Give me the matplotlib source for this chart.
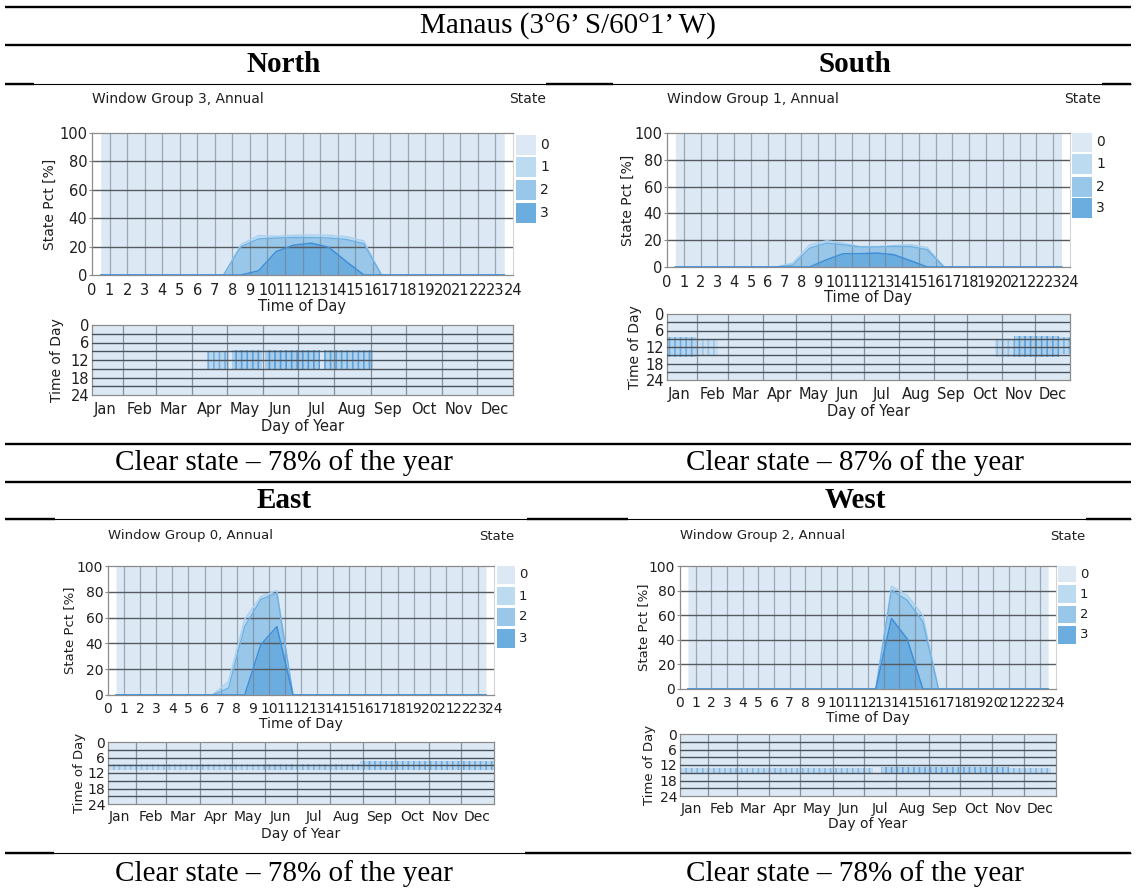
import numpy as np
import matplotlib
matplotlib.use("Agg")
import matplotlib.pyplot as plt
from matplotlib.lines import Line2D
from matplotlib.patches import Rectangle

plt.rcParams['font.family'] = ['DejaVu Sans']
plt.rcParams['hatch.linewidth'] = 1.2

# ---- data ----
hour_mid = np.arange(24) + 0.5
hour_ticks = [str(h) for h in range(25)]
pct_ticks = [0, 20, 40, 60, 80, 100]
tod_ticks = [0, 6, 12, 18, 24]
months = ['Jan', 'Feb', 'Mar', 'Apr', 'May', 'Jun', 'Jul', 'Aug', 'Sep', 'Oct', 'Nov', 'Dec']
month_days = [31, 28, 31, 30, 31, 30, 31, 31, 30, 31, 30, 31]
state_names = ['0', '1', '2', '3']

# share of hours [%] in state 1, 2 and 3, per hour of day (state 0 is the rest)
north_s1 = [0, 0, 0, 0, 0, 0, 0, 0, 1.6, 2.4, 1.3, 1.6, 1.8, 2.0, 2.0, 2.0, 0, 0, 0, 0, 0, 0, 0, 0]
north_s2 = [0, 0, 0, 0, 0, 0, 0, 0, 20, 22.4, 9.5, 5.4, 4.0, 6.5, 15.6, 22, 0, 0, 0, 0, 0, 0, 0, 0]
north_s3 = [0, 0, 0, 0, 0, 0, 0, 0, 0, 3, 16.5, 21, 22.4, 19.5, 9.4, 0, 0, 0, 0, 0, 0, 0, 0, 0]

south_s1 = [0, 0, 0, 0, 0, 0, 0, 1.5, 2.5, 1.8, 1.2, 0.4, 0.4, 0.7, 1.4, 1.7, 0, 0, 0, 0, 0, 0, 0, 0]
south_s2 = [0, 0, 0, 0, 0, 0, 0, 1.5, 14, 12.4, 6.7, 5.0, 4.5, 6.1, 10.6, 12.9, 0, 0, 0, 0, 0, 0, 0, 0]
south_s3 = [0, 0, 0, 0, 0, 0, 0, 0, 0, 5.4, 9.9, 9.9, 10.4, 9.2, 4.7, 0, 0, 0, 0, 0, 0, 0, 0, 0]

east_s1 = [0, 0, 0, 0, 0, 0, 0, 5.2, 5.8, 2.3, 2.0, 0, 0, 0, 0, 0, 0, 0, 0, 0, 0, 0, 0, 0]
east_s2 = [0, 0, 0, 0, 0, 0, 0, 5.4, 53, 35.1, 26, 0, 0, 0, 0, 0, 0, 0, 0, 0, 0, 0, 0, 0]
east_s3 = [0, 0, 0, 0, 0, 0, 0, 0, 0, 38.9, 53, 0, 0, 0, 0, 0, 0, 0, 0, 0, 0, 0, 0, 0]

west_s1 = [0, 0, 0, 0, 0, 0, 0, 0, 0, 0, 0, 0, 0, 3.3, 4.1, 5.3, 0, 0, 0, 0, 0, 0, 0, 0]
west_s2 = [0, 0, 0, 0, 0, 0, 0, 0, 0, 0, 0, 0, 0, 22.9, 31.5, 54.7, 0, 0, 0, 0, 0, 0, 0, 0]
west_s3 = [0, 0, 0, 0, 0, 0, 0, 0, 0, 0, 0, 0, 0, 57.4, 40.7, 0, 0, 0, 0, 0, 0, 0, 0, 0]

# non-clear periods in the day-of-year strip: (first day, last day, from hour, to hour, density)
north_bands = [(103, 122, 9.0, 15.0, 0.55), (124, 150, 8.5, 15.5, 0.75),
               (153, 200, 8.5, 15.5, 0.8), (203, 245, 8.5, 15.5, 0.7)]
south_bands = [(4, 30, 8.5, 15.5, 0.6), (30, 50, 9.0, 15.0, 0.3),
               (298, 315, 9.0, 15.5, 0.35), (315, 355, 8.0, 15.5, 0.75), (355, 365, 8.5, 14.5, 0.5)]
east_bands = [(4, 150, 8.7, 10.7, 0.35), (150, 240, 8.7, 10.7, 0.5), (240, 365, 7.3, 10.7, 0.6)]
west_bands = [(4, 190, 13.0, 15.2, 0.45), (197, 320, 12.8, 15.4, 0.65), (320, 360, 13.0, 15.0, 0.45)]

# ---- styling ----
W, H = 1136, 891
C_STATE = ['#dce9f5', '#bcdbf1', '#98c7e9', '#6cade0']
EDGE = ['#a9d0ef', '#6fb0e2', '#3f8ed6']
TXT = '#1f1f1f'
SERIF = ['Liberation Serif', 'DejaVu Serif']

fig = plt.figure(figsize=(W / 100, H / 100), dpi=100)


def px_axes(l, t, r, b):
    return fig.add_axes([l / W, 1 - b / H, (r - l) / W, (b - t) / H])


def rule(y, x0, x1, lw):
    fig.add_artist(Line2D([x0 / W, x1 / W], [1 - y / H] * 2, transform=fig.transFigure,
                          color='black', lw=lw, solid_capstyle='butt'))


def ftext(x, y, s, **kw):
    fig.text(x / W, 1 - y / H, s, **kw)


def draw_panel(g, s1, s2, s3, bands, group):
    fs = g['fs']
    # header texts
    ftext(g['area'][0], g['head_y'], f'Window Group {group}, Annual', fontsize=fs - 0.5,
          color=TXT, va='center', ha='left')
    ftext(g['state_r'], g['head_y'], 'State', fontsize=fs - 0.5, color=TXT, va='center', ha='right')

    # stacked state area chart
    l, t, r, b = g['area']
    ax = px_axes(l, t, r, b)
    c3 = np.array(s3, dtype=float)
    c2 = c3 + np.array(s2)
    c1 = c2 + np.array(s1)
    ax.fill_between(hour_mid, c1, 100, color=C_STATE[0], lw=0, zorder=1)
    ax.fill_between(hour_mid, c2, c1, color=C_STATE[1], lw=0, zorder=1)
    ax.fill_between(hour_mid, c3, c2, color=C_STATE[2], lw=0, zorder=1)
    ax.fill_between(hour_mid, 0, c3, color=C_STATE[3], lw=0, zorder=1)
    for h in range(1, 24):
        ax.axvline(h, color='#6f7c89', lw=0.9, alpha=0.6, zorder=2)
    for v in pct_ticks[1:-1]:
        ax.axhline(v, color='#555b61', lw=1.0, zorder=2)
    ax.plot(hour_mid, c1, color=EDGE[0], lw=1.0, zorder=3)
    ax.plot(hour_mid, c2, color=EDGE[1], lw=1.0, zorder=3)
    ax.plot(hour_mid, c3, color=EDGE[2], lw=1.1, zorder=3)
    ax.set_xlim(0, 24)
    ax.set_ylim(0, 100)
    ax.set_facecolor('white')
    ax.set_xticks(range(25))
    ax.set_xticklabels(hour_ticks)
    ax.set_yticks(pct_ticks)
    ax.tick_params(axis='x', length=0, pad=g['xpad'], labelsize=fs, labelcolor=TXT)
    ax.tick_params(axis='y', length=2.5, width=0.8, color='#8c8c8c', pad=1, labelsize=fs, labelcolor=TXT)
    for side in ('left', 'top', 'bottom'):
        ax.spines[side].set_color('#8c8c8c')
        ax.spines[side].set_linewidth(0.9)
    ax.spines['right'].set_color('#d4d4d4')
    ax.set_xlabel('Time of Day', fontsize=fs, color=TXT)
    ax.xaxis.set_label_coords(0.5, 1 - (g['xlab_y'] - t) / (b - t))
    ax.xaxis.label.set_va('center')
    ax.set_ylabel('State Pct [%]', fontsize=fs - 0.5, color=TXT)
    ax.yaxis.set_label_coords((g['ylab_x'] - l) / (r - l), 0.5)
    ax.yaxis.label.set_va('center')

    # legend boxes
    x0, x1 = g['leg_x']
    for k, (y0, y1) in enumerate(g['leg_rows']):
        fig.add_artist(Rectangle((x0 / W, 1 - y1 / H), (x1 - x0) / W, (y1 - y0) / H,
                                 transform=fig.transFigure, facecolor=C_STATE[k], edgecolor='none'))
        ftext(x1 + 4, (y0 + y1) / 2, state_names[k], fontsize=fs - 0.5, color=TXT, va='center', ha='left')

    # day-of-year strip
    l, t, r, b = g['strip']
    sx = px_axes(l, t, r, b)
    sx.set_facecolor(C_STATE[0])
    bounds = np.cumsum([0] + month_days)
    for d in bounds[1:-1]:
        sx.axvline(d, color='#6f7c89', lw=0.9, alpha=0.8, zorder=2)
    for h in range(3, 24, 3):
        sx.axhline(h, color='#4a535c', lw=1.0, zorder=3)
    for d0, d1, h0, h1, a in bands:
        sx.add_patch(Rectangle((d0, h0), d1 - d0, h1 - h0, facecolor=(0.44, 0.69, 0.88, 0.6 * a),
                               edgecolor=(0.25, 0.56, 0.84, a), hatch='|||', lw=0, zorder=1))
    sx.set_xlim(4.5, 365)
    sx.set_ylim(24, 0)
    sx.set_yticks(tod_ticks)
    sx.set_xticks((bounds[:-1] + bounds[1:]) / 2)
    sx.set_xticklabels(months)
    sx.tick_params(axis='x', length=0, pad=g['xpad'] - 1, labelsize=fs, labelcolor=TXT)
    sx.tick_params(axis='y', length=0, pad=2, labelsize=fs, labelcolor=TXT)
    for side in sx.spines.values():
        side.set_color('#8c8c8c')
        side.set_linewidth(0.9)
    sx.set_xlabel('Day of Year', fontsize=fs, color=TXT)
    sx.xaxis.set_label_coords(0.5, 1 - (g['dlab_y'] - t) / (b - t))
    sx.xaxis.label.set_va('center')
    sx.set_ylabel('Time of Day', fontsize=fs - 0.5, color=TXT)
    sx.yaxis.set_label_coords((g['tlab_x'] - l) / (r - l), 0.5)
    sx.yaxis.label.set_va('center')


geo_north = dict(fs=10.5, head_y=99, state_r=546, area=(92, 133, 513, 275), xpad=6, xlab_y=307, ylab_x=50,
                 leg_x=(516, 536), leg_rows=[(135, 155), (157, 177), (180, 200), (203, 223)],
                 strip=(92, 325, 513, 395), dlab_y=426, tlab_x=57)
geo_south = dict(fs=10.5, head_y=99, state_r=1101, area=(667, 133, 1070, 267), xpad=6, xlab_y=297, ylab_x=628,
                 leg_x=(1072, 1092), leg_rows=[(133, 152), (154, 174), (177, 197), (198, 218)],
                 strip=(667, 314, 1070, 380), dlab_y=411, tlab_x=635)
geo_east = dict(fs=10, head_y=536, state_r=514, area=(108, 566, 494, 695), xpad=5, xlab_y=724, ylab_x=70,
                leg_x=(497, 515), leg_rows=[(566, 584), (587, 605), (608, 626), (629, 648)],
                strip=(108, 742, 494, 804), dlab_y=834, tlab_x=79)
geo_west = dict(fs=10, head_y=536, state_r=1085, area=(680, 566, 1056, 689), xpad=5, xlab_y=718, ylab_x=644,
                leg_x=(1058, 1076), leg_rows=[(566, 582), (585, 603), (606, 623), (626, 644)],
                strip=(680, 734, 1056, 796), dlab_y=824, tlab_x=650)

draw_panel(geo_north, north_s1, north_s2, north_s3, north_bands, 3)
draw_panel(geo_south, south_s1, south_s2, south_s3, south_bands, 1)
draw_panel(geo_east, east_s1, east_s2, east_s3, east_bands, 0)
draw_panel(geo_west, west_s1, west_s2, west_s3, west_bands, 2)

# ---- table text and rules ----
ftext(568, 26, 'Manaus (3°6’ S/60°1’ W)', family=SERIF, fontsize=21, va='center', ha='center')
ftext(284, 64, 'North', family=SERIF, fontsize=21, weight='bold', va='center', ha='center')
ftext(855, 64, 'South', family=SERIF, fontsize=21, weight='bold', va='center', ha='center')
ftext(284, 463, 'Clear state – 78% of the year', family=SERIF, fontsize=21, va='center', ha='center')
ftext(855, 463, 'Clear state – 87% of the year', family=SERIF, fontsize=21, va='center', ha='center')
ftext(284, 501, 'East', family=SERIF, fontsize=21, weight='bold', va='center', ha='center')
ftext(855, 501, 'West', family=SERIF, fontsize=21, weight='bold', va='center', ha='center')
ftext(284, 874, 'Clear state – 78% of the year', family=SERIF, fontsize=21, va='center', ha='center')
ftext(855, 874, 'Clear state – 78% of the year', family=SERIF, fontsize=21, va='center', ha='center')

THICK, THIN = 1.7, 0.8
rule(7, 5, 1131, THICK)
rule(45, 5, 1131, THICK)
rule(84, 5, 1131, THIN)
for a, c in [(5, 34), (546, 613), (1102, 1131)]:
    rule(84, a, c, THICK)
rule(444, 5, 1131, THICK)
rule(482, 5, 1131, THICK)
rule(519, 5, 1131, THIN)
for a, c in [(5, 55), (527, 628), (1086, 1131)]:
    rule(519, a, c, THICK)
rule(853, 5, 1131, THIN)
for a, c in [(5, 54), (525, 1131)]:
    rule(853, a, c, THICK)

fig.savefig('out.png', dpi=100)
